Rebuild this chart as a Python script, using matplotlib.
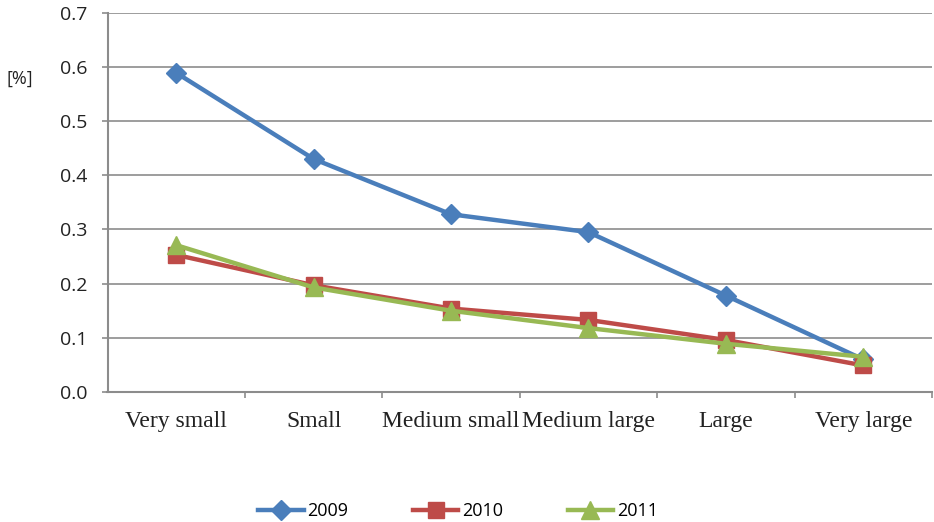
import matplotlib
matplotlib.use("Agg")
import matplotlib.pyplot as plt
import numpy as np

categories = ["Very small", "Small", "Medium small", "Medium large", "Large", "Very large"]
years = ["2009", "2010", "2011"]
v2009 = [0.589, 0.430, 0.328, 0.295, 0.178, 0.060]
v2010 = [0.253, 0.197, 0.154, 0.133, 0.096, 0.049]
v2011 = [0.271, 0.193, 0.150, 0.118, 0.089, 0.065]
yticks = [0.0, 0.1, 0.2, 0.3, 0.4, 0.5, 0.6, 0.7]

colors = ["#4A7EBB", "#BE4B48", "#98B954"]
markers = ["D", "s", "^"]
sizes = [10, 11.5, 12.5]

fig = plt.figure(figsize=(9.34, 5.22), dpi=100)
ax = fig.add_axes([107.5 / 934, 1 - 392 / 522, 824.5 / 934, 379.3 / 522])

x = np.arange(len(categories))
for vals, name, c, m, s in zip([v2009, v2010, v2011], years, colors, markers, sizes):
    ax.plot(x, vals, color=c, lw=3.2, marker=m, ms=s, label=name,
            markeredgecolor=c)

ax.set_xlim(-0.5, len(categories) - 0.5)
ax.set_ylim(0, 0.7)
ax.set_yticks(yticks)
ax.set_yticklabels(["%.1f" % t for t in yticks], family="Open Sans", fontsize=14, color="#222222")
ax.yaxis.grid(True, color="#8c8c8c", lw=1.2)
ax.set_axisbelow(True)

ax.set_xticks(x)
ax.set_xticklabels(categories, family="Liberation Serif", fontsize=17, color="#222222")
ax.tick_params(axis="x", which="major", length=0, pad=14)
ax.set_xticks(np.arange(0.5, len(categories), 1), minor=True)
ax.tick_params(axis="x", which="minor", length=4.3, color="#8c8c8c", width=1.2)
ax.tick_params(axis="y", length=4.3, color="#8c8c8c", width=1.2, pad=10)

for side in ["top", "right"]:
    ax.spines[side].set_visible(False)
for side in ["left", "bottom"]:
    ax.spines[side].set_color("#8c8c8c")
    ax.spines[side].set_linewidth(1.5)

fig.text(7 / 934, 1 - 79 / 522, "[%]", family="Open Sans", fontsize=13,
         color="#222222", ha="left", va="center")

fig.legend(loc="center", bbox_to_anchor=(458 / 934, 1 - 511 / 522), ncol=3,
           frameon=False, prop={"family": "Open Sans", "size": 13},
           handlelength=2.5, columnspacing=3.6, handletextpad=0.2)

fig.savefig("out.png", dpi=100)
